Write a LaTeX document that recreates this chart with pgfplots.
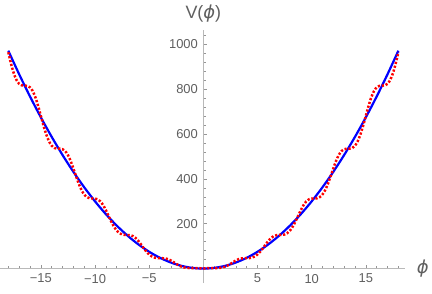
\documentclass[border=0pt]{standalone}
\usepackage{fontspec}
\setmainfont{Liberation Sans}
\newfontfamily\dvfont{DejaVu Sans}
\usepackage{pgfplots}
\usepackage{pgfplotstable}
\pgfplotsset{compat=1.18}
\definecolor{axgray}{RGB}{185,185,185}
\definecolor{tickgray}{RGB}{150,150,150}
\definecolor{labgray}{RGB}{95,95,95}
\newcommand{\vphi}{{\dvfont\itshape ϕ}}
\pgfplotstableread{
p V
-18 965.10
-17.75 914.11
-17.5 871.93
-17.25 841.78
-17 824.27
-16.75 817.15
-16.5 816.10
-16.25 815.16
-16 808.56
-15.75 792.02
-15.5 763.93
-15.25 725.84
-15 681.97
-14.75 637.81
-14.5 598.64
-14.25 568.24
-14 548.26
-13.75 538.08
-13.5 534.99
-13.25 534.76
-13 532.55
-12.75 524.04
-12.5 506.66
-12.25 480.31
-12 447.41
-11.75 412.01
-11.5 378.58
-11.25 350.79
-11 330.75
-10.75 318.84
-10.5 313.73
-10.25 312.75
-10 312.37
-9.75 308.94
-9.5 299.66
-9.25 283.43
-9 261.16
-8.75 235.37
-8.5 209.79
-8.25 187.18
-8 169.71
-7.75 158.24
-7.5 152.09
-7.25 150.07
-7 149.89
-6.75 149.00
-6.5 145.06
-6.25 136.64
-6 123.73
-5.75 107.70
-5.5 90.82
-5.25 75.37
-5 62.94
-4.75 54.22
-4.5 49.07
-4.25 46.78
-4 46.27
-3.75 46.18
-3.5 45.09
-3.25 41.92
-3 36.33
-2.75 28.91
-2.5 20.94
-2.25 13.80
-2 8.40
-1.75 4.93
-1.5 3.03
-1.25 2.16
-1 1.88
-0.75 1.85
-0.5 1.78
-0.25 1.42
0 0.75
0.25 1.42
0.5 1.78
0.75 1.85
1 1.88
1.25 2.16
1.5 3.03
1.75 4.93
2 8.40
2.25 13.80
2.5 20.94
2.75 28.91
3 36.33
3.25 41.92
3.5 45.09
3.75 46.18
4 46.27
4.25 46.78
4.5 49.07
4.75 54.22
5 62.94
5.25 75.37
5.5 90.82
5.75 107.70
6 123.73
6.25 136.64
6.5 145.06
6.75 149.00
7 149.89
7.25 150.07
7.5 152.09
7.75 158.24
8 169.71
8.25 187.18
8.5 209.79
8.75 235.37
9 261.16
9.25 283.43
9.5 299.66
9.75 308.94
10 312.37
10.25 312.75
10.5 313.73
10.75 318.84
11 330.75
11.25 350.79
11.5 378.58
11.75 412.01
12 447.41
12.25 480.31
12.5 506.66
12.75 524.04
13 532.55
13.25 534.76
13.5 534.99
13.75 538.08
14 548.26
14.25 568.24
14.5 598.64
14.75 637.81
15 681.97
15.25 725.84
15.5 763.93
15.75 792.02
16 808.56
16.25 815.16
16.5 816.10
16.75 817.15
17 824.27
17.25 841.78
17.5 871.93
17.75 914.11
18 965.10
}\reddata
\pgfplotstableread{
p V
-18 972
-17 867
-16 768
-15 675
-14 588
-13 507
-12 432
-11 363
-10 300
-9 243
-8 192
-7 147
-6 108
-5 75
-4 48
-3 27
-2 12
-1 3
0 0
1 3
2 12
3 27
4 48
5 75
6 108
7 147
8 192
9 243
10 300
11 363
12 432
13 507
14 588
15 675
16 768
17 867
18 972
}\bluedata
\begin{document}
\begin{tikzpicture}
\begin{axis}[
  scale only axis,
  width=406.7pt, height=254.7pt,
  xmin=-18.73, xmax=18.6, ymin=-65, ymax=1065,
  axis lines=middle,
  axis line style={draw=axgray, line width=0.8pt, -},
  every inner x axis line/.append style={-},
  every inner y axis line/.append style={-},
  tick align=inside,
  major tick length=4pt, minor tick length=2.5pt,
  tick style={draw=tickgray, line width=0.6pt},
  xtick={-15,-10,-5,5,10,15},
  xticklabels={−15,−10,−5,5,10,15},
  minor xtick={-18,-17,-16,-14,-13,-12,-11,-9,-8,-7,-6,-4,-3,-2,-1,1,2,3,4,6,7,8,9,11,12,13,14,16,17,18},
  ytick={200,400,600,800,1000},
  yticklabels={200,400,600,800,1000},
  minor ytick={40,80,120,160,240,280,320,360,440,480,520,560,640,680,720,760,840,880,920,960,1040},
  ticklabel style={font=\fontsize{13}{15}\selectfont, text=labgray},
  xticklabel style={yshift=-2pt},
  yticklabel style={xshift=-2pt},
  xlabel={\vphi},
  ylabel={V(\vphi)},
  x label style={at={(axis cs:18.6,0)}, anchor=center, xshift=18pt, font=\fontsize{18}{20}\selectfont, text=labgray},
  y label style={at={(axis cs:0,1065)}, anchor=center, yshift=16pt, rotate=0, font=\fontsize{18}{20}\selectfont, text=labgray},
]
\addplot[blue, line width=2.2pt, smooth] table[x=p, y=V] {\bluedata};
\addplot[red, line width=2.5pt, line cap=butt, dash pattern=on 2.2pt off 1.8pt, smooth] table[x=p, y=V] {\reddata};
\end{axis}
\path[use as bounding box] ([yshift=-10.3pt]current axis.south west) rectangle ([xshift=25.3pt, yshift=30pt]current axis.north east);
\end{tikzpicture}
\end{document}
